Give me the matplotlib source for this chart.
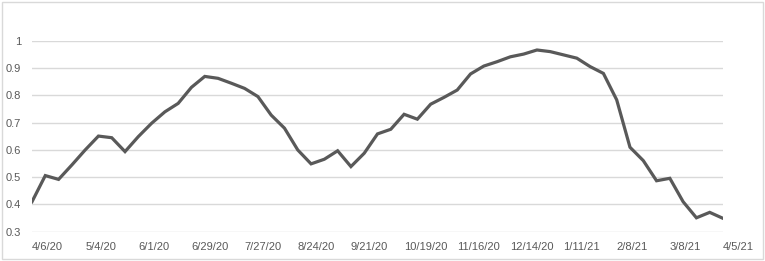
import numpy as np
import matplotlib.pyplot as plt
from matplotlib.patches import Rectangle

# weekly values, 4/6/20 .. 4/5/21
values = [0.41, 0.506, 0.492, 0.545, 0.60, 0.651, 0.645, 0.594, 0.649, 0.698,
          0.74, 0.771, 0.83, 0.870, 0.863, 0.845, 0.826, 0.796, 0.728, 0.68,
          0.60, 0.549, 0.566, 0.597, 0.539, 0.588, 0.659, 0.676, 0.731, 0.713,
          0.768, 0.793, 0.820, 0.879, 0.908, 0.924, 0.942, 0.952, 0.967, 0.961,
          0.949, 0.937, 0.906, 0.881, 0.784, 0.610, 0.561, 0.487, 0.496, 0.41,
          0.351, 0.371, 0.349]
tick_labels = ['4/6/20', '5/4/20', '6/1/20', '6/29/20', '7/27/20', '8/24/20',
               '9/21/20', '10/19/20', '11/16/20', '12/14/20', '1/11/21',
               '2/8/21', '3/8/21', '4/5/21']
yticks = [0.3, 0.4, 0.5, 0.6, 0.7, 0.8, 0.9, 1.0]
ytick_labels = ['0.3', '0.4', '0.5', '0.6', '0.7', '0.8', '0.9', '1']

plt.rcParams['font.family'] = 'Liberation Sans'

x = np.arange(len(values))

fig = plt.figure(figsize=(7.65, 2.61), dpi=100)
ax = fig.add_axes([32/765, 1 - 231.7/261, (723 - 32)/765, (231.7 - 41)/261])

ax.plot(x, values, color='#595959', linewidth=2.3, solid_joinstyle='miter', zorder=3)

ax.set_xlim(0, len(values) - 1)
ax.set_ylim(0.3, 1.0)
ax.set_yticks(yticks)
ax.set_yticklabels(ytick_labels)
ax.set_xticks(x[::4])
ax.set_xticklabels(tick_labels, ha='left')
ax.grid(axis='y', color='#d9d9d9', linewidth=1)
ax.set_axisbelow(True)
for s in ax.spines.values():
    s.set_visible(False)
ax.tick_params(length=0, colors='#595959', labelsize=8)
ax.tick_params(axis='y', pad=8)
ax.tick_params(axis='x', pad=7.5)

# chart border
fig.patches.append(Rectangle((2/765, 2/261), 761/765, 257/261, transform=fig.transFigure,
                             fill=False, edgecolor='#d9d9d9', linewidth=1))

plt.savefig('out.png', dpi=100)
